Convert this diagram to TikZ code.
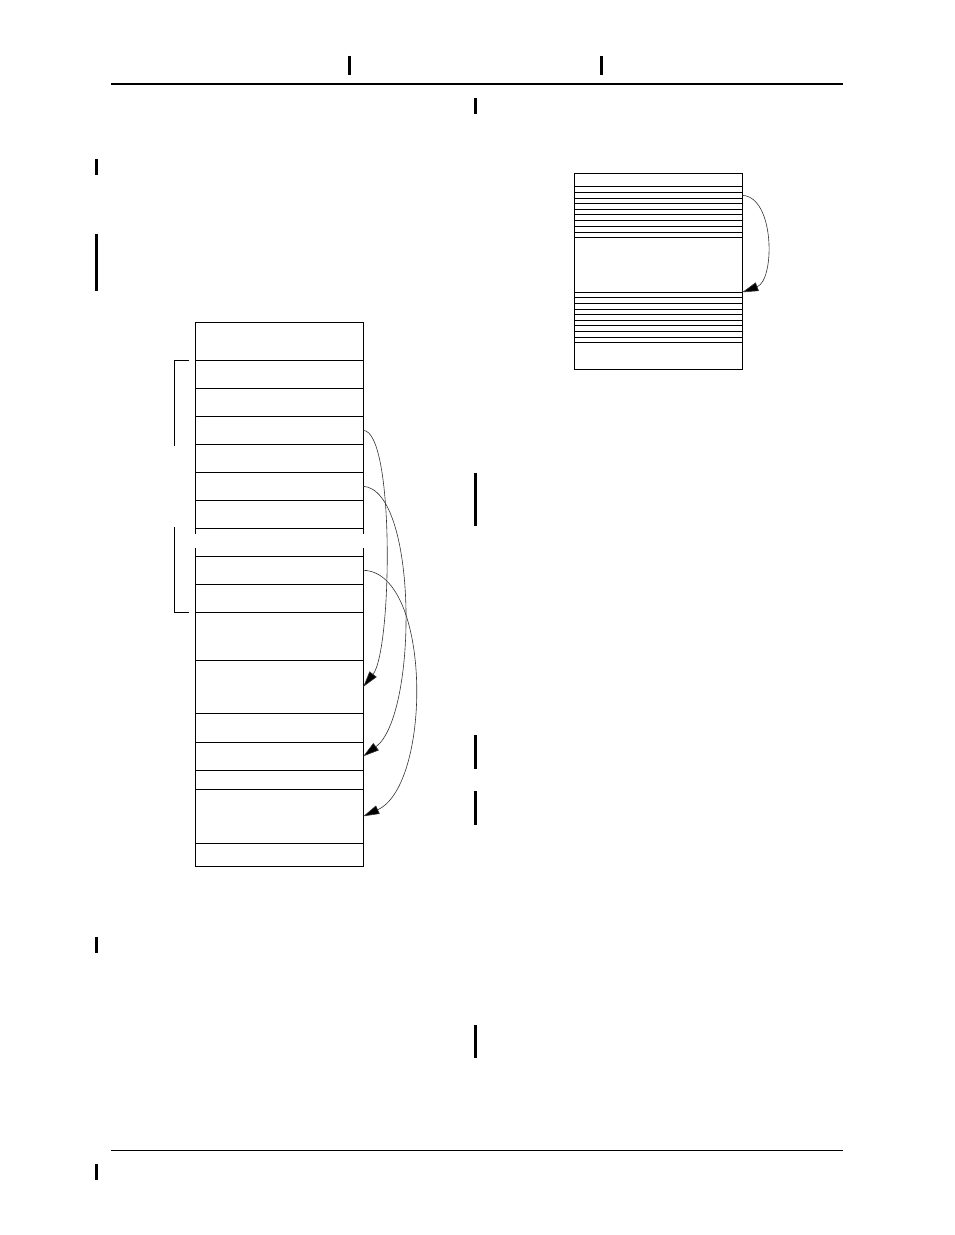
\documentclass[tikz,border=0pt]{standalone}
\usetikzlibrary{arrows.meta}
\begin{document}
\begin{tikzpicture}[x=1pt,y=-1pt,
  lrowbox/.style={draw, line width=0.8pt, minimum width=168pt, inner sep=0pt, outer sep=0pt},
  rrowbox/.style={draw, line width=0.7pt, minimum width=168pt, inner sep=0pt, outer sep=0pt},
  boxline/.style={line width=0.8pt},
  curvearrow/.style={line width=0.6pt, draw=black!80, -{Triangle[length=16pt,width=9pt,fill=black]}},
  cbar/.style={line width=3pt},
  bracket/.style={line width=0.8pt}]
\useasboundingbox (0,0) rectangle (954,1235);

% header / footer rules
\draw[line width=1.6pt] (111,83.7) -- (842.7,83.7);
\draw[line width=1pt] (111,1150) -- (842.7,1150);

% change bars
\draw[cbar] (349.3,55.7) -- (349.3,75);
\draw[cbar] (601.3,55.7) -- (601.3,75);
\draw[cbar] (475.3,98) -- (475.3,113.7);
\draw[cbar] (96.3,159) -- (96.3,175);
\draw[cbar] (96.3,234) -- (96.3,291);
\draw[cbar] (475.3,472.7) -- (475.3,526);
\draw[cbar] (475.3,735) -- (475.3,769);
\draw[cbar] (475.3,791) -- (475.3,825);
\draw[cbar] (96.3,937) -- (96.3,953);
\draw[cbar] (475.3,1025) -- (475.3,1058);
\draw[cbar] (96.3,1164) -- (96.3,1180);

% left stack
\foreach \a/\b/\n in {322.3/360.3/r0, 360.3/388.3/r1, 388.3/416.3/r2, 416.3/444.3/r3,
  444.3/472.3/r4, 472.3/500.3/r5, 500.3/528.3/r6, 556.3/584.3/r7, 584.3/612.3/r8,
  612.3/660.3/r9, 660.3/713.3/r10, 713.3/742.3/r11, 742.3/770.3/r12, 770.3/789.3/r13,
  789.3/843.3/r14, 843.3/866/r15}
  {\node[lrowbox, minimum height={(\b-\a)*1pt}] (\n) at (279.3,{(\a+\b)/2}) {};}
% broken row
\draw[boxline] (r6.south west) -- ++(0,6) (r7.north west) -- ++(0,-8.6);
\draw[boxline] (r6.south east) -- ++(0,6) (r7.north east) -- ++(0,-8.6);

% brackets
\draw[bracket] (189,360.3) -- (174.3,360.3) -- (174.3,446.3);
\draw[bracket] (174.3,527) -- (174.3,612.3) -- (189,612.3);

% arrows (left)
\draw[curvearrow] (r3.east) .. controls (395,432) and (392,650) .. (r10.east);
\draw[curvearrow] (r5.east) .. controls (418,490) and (418,715) .. (r12.east);
\draw[curvearrow] (r7.east) .. controls (432,572) and (432,785) .. (r14.east);

% right stack
\foreach \a/\b [count=\i] in {173.3/186, 186/192.3, 192.3/198.3, 198.3/203.7, 203.7/209.3,
  209.3/214.7, 214.7/220.3, 220.3/226.3, 226.3/232, 232/237.3, 237.3/292.3,
  292.3/297.3, 297.3/303.3, 303.3/309, 309/314.7, 314.7/320.3, 320.3/325.7,
  325.7/331.3, 331.3/337, 337/342.7, 342.7/369.3}
  {\node[rrowbox, minimum height={(\b-\a)*1pt}] (q\i) at (658.3,{(\a+\b)/2}) {};}

\draw[curvearrow] (q3.east) .. controls (775,197) and (775,280) .. (q11.south east);
\end{tikzpicture}
\end{document}
